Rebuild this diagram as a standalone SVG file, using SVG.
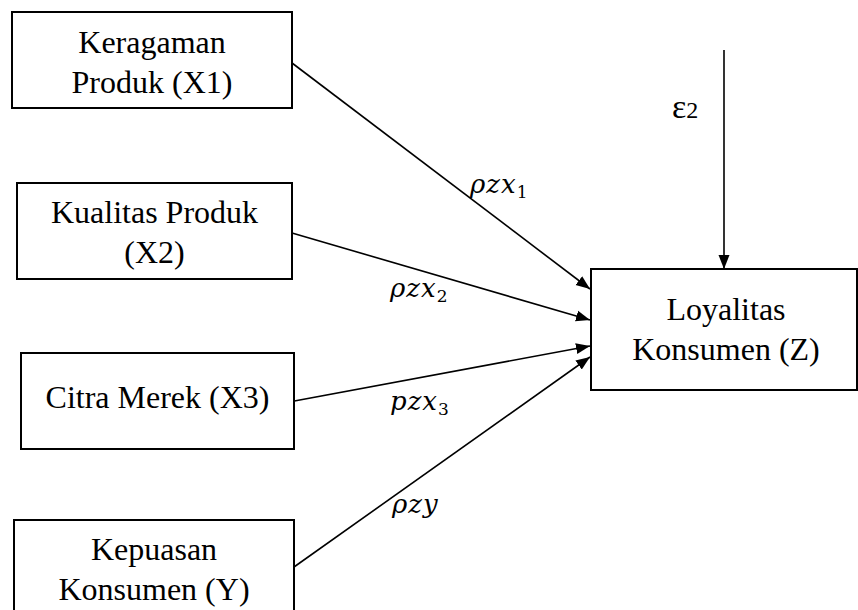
<svg xmlns="http://www.w3.org/2000/svg" width="858" height="610" viewBox="0 0 858 610">
<style>
.box{fill:#fff;stroke:#000;stroke-width:2}
.t{font-family:"Liberation Serif","Times New Roman",serif;font-size:32px;fill:#000;text-anchor:middle}
.m{font-family:"DejaVu Serif",serif;font-style:italic;font-size:26px;letter-spacing:1px;fill:#000}
.sub{font-size:17px;font-style:normal}
.e{font-family:"Liberation Serif","Times New Roman",serif;fill:#000}
.c{stroke:#000;stroke-width:1.6;fill:none;marker-end:url(#ah)}
</style>
<defs>
<marker id="ah" viewBox="0 0 14 14" refX="14" refY="7" markerWidth="14" markerHeight="14" markerUnits="userSpaceOnUse" orient="auto">
<path d="M0,1.5 L14,7 L0,12.5 z" fill="#000"/>
</marker>
</defs>
<g id="connectors">
<line class="c" x1="292" y1="63" x2="590" y2="289"/>
<line class="c" x1="292" y1="233" x2="590" y2="320"/>
<line class="c" x1="289" y1="402" x2="590" y2="346"/>
<line class="c" x1="294" y1="567" x2="590" y2="357"/>
<line class="c" x1="724" y1="50" x2="724" y2="269"/>
</g>
<g id="labels">
<text class="m" x="470" y="193">ρzx<tspan class="sub" dy="5">1</tspan></text>
<text class="m" x="390" y="297">ρzx<tspan class="sub" dy="5">2</tspan></text>
<text class="m" x="390" y="410">pzx<tspan class="sub" dy="5">3</tspan></text>
<text class="m" x="392" y="513">ρzy</text>
<text class="e" x="672" y="118"><tspan font-size="34">ε</tspan><tspan font-size="24">2</tspan></text>
</g>
<g id="x1">
<rect class="box" x="12" y="12" width="280" height="96"/>
<text class="t" x="152" y="53">Keragaman</text>
<text class="t" x="152" y="93">Produk (X1)</text>
</g>
<g id="x2">
<rect class="box" x="17" y="183" width="275" height="96"/>
<text class="t" x="154.5" y="223">Kualitas Produk</text>
<text class="t" x="154.5" y="263">(X2)</text>
</g>
<g id="x3">
<rect class="box" x="21" y="353" width="273" height="96"/>
<text class="t" x="157.5" y="408">Citra Merek (X3)</text>
</g>
<g id="y">
<rect class="box" x="14" y="520" width="280" height="110"/>
<text class="t" x="154" y="560">Kepuasan</text>
<text class="t" x="154" y="600">Konsumen (Y)</text>
</g>
<g id="z">
<rect class="box" x="591" y="269" width="266" height="121"/>
<text class="t" x="726" y="320">Loyalitas</text>
<text class="t" x="726" y="360">Konsumen (Z)</text>
</g>
</svg>
